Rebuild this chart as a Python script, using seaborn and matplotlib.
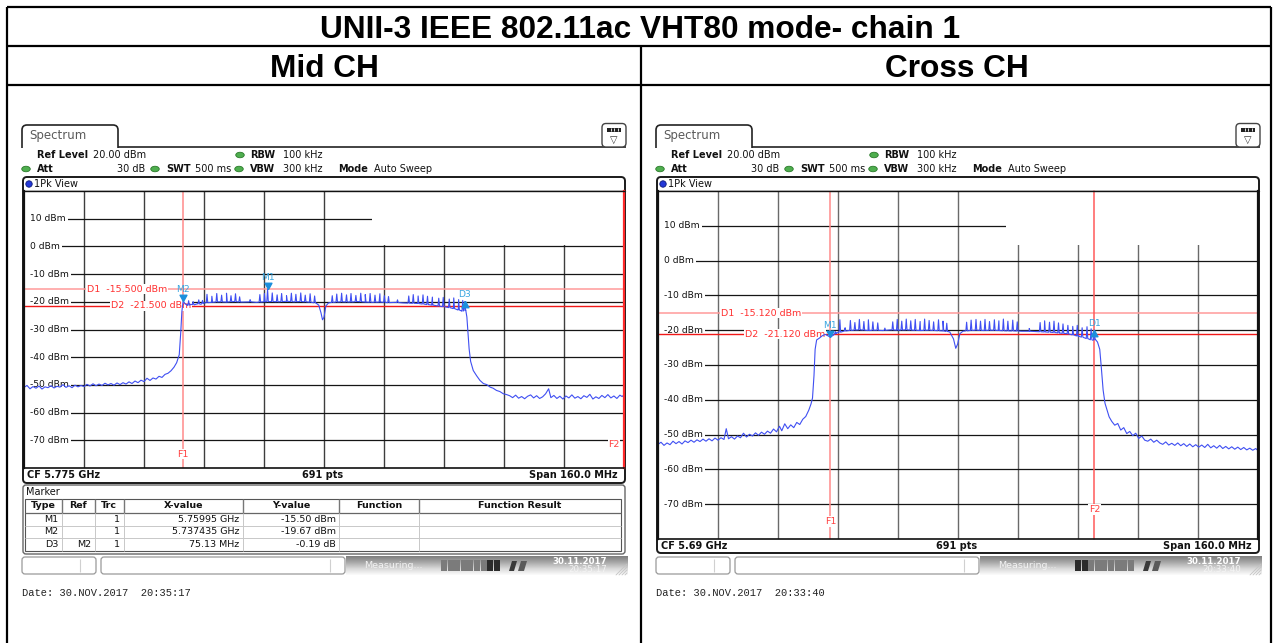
import numpy as np
import matplotlib
matplotlib.use("Agg")
import matplotlib.pyplot as plt
import seaborn as sns
from matplotlib.patches import FancyBboxPatch, Rectangle, Ellipse, Circle, Polygon
from matplotlib.path import Path
from matplotlib.colors import LinearSegmentedColormap

sns.set_style("white")
plt.rcParams["font.family"] = ["DejaVu Sans"]
plt.rcParams["text.color"] = "black"

# ------------------------------------------------------------------ data
TITLE = "UNII-3 IEEE 802.11ac VHT80 mode- chain 1"
COLUMN_TITLES = ["Mid CH", "Cross CH"]

REF_LEVEL_DBM = 20.0
SPAN_MHZ = 160.0
SWEEP_POINTS = "691 pts"
mid_cf_mhz = 5775.0
cross_cf_mhz = 5690.0

# analyzer settings
setting_ref = "20.00 dBm"
setting_att = "30 dB"
setting_swt = "500 ms"
setting_rbw = "100 kHz"
setting_vbw = "300 kHz"
setting_mode = "Auto Sweep"

# Mid CH trace: envelope points and narrow peaks (MHz, dBm)
mid_floor_mhz = [
    5695.0, 5695.8, 5696.6, 5697.4, 5698.2, 5699.0, 5699.8, 5700.6, 5701.4, 5702.2,
    5703.0, 5703.8, 5704.6, 5705.4, 5706.2, 5707.0, 5707.8, 5708.6, 5709.4, 5710.2,
    5711.0, 5711.8, 5712.6, 5713.4, 5714.2, 5715.0, 5715.8, 5716.6, 5717.4, 5718.2,
    5719.0, 5719.8, 5720.6, 5721.4, 5722.2, 5723.0, 5723.8, 5724.6, 5725.4, 5726.2,
    5727.0, 5727.8, 5728.6, 5729.4, 5730.2, 5731.0, 5731.8, 5732.6, 5733.4, 5734.2,
    5735.0, 5735.7, 5736.4, 5736.8, 5737.1, 5737.435, 5738.0, 5738.7, 5739.5, 5740.4,
    5741.3, 5742.2, 5743.0, 5745.0, 5747.0, 5749.0, 5751.0, 5753.0, 5755.0, 5757.0,
    5759.0, 5761.0, 5763.0, 5765.0, 5767.0, 5769.0, 5771.0, 5772.8, 5773.6, 5774.2,
    5774.6, 5775.0, 5775.5, 5776.2, 5778.0, 5780.0, 5782.0, 5784.0, 5786.0, 5788.0,
    5790.0, 5792.0, 5794.0, 5796.0, 5798.0, 5800.0, 5802.0, 5804.0, 5806.0, 5808.0,
    5809.5, 5810.8, 5811.8, 5812.8, 5813.1, 5813.4, 5813.7, 5814.1, 5814.8, 5815.7,
    5816.6, 5817.5, 5818.4, 5819.3, 5820.1, 5821.0, 5821.9, 5822.8, 5823.7, 5824.5,
    5825.3, 5826.1, 5826.9, 5827.7, 5828.5, 5829.3, 5830.1, 5830.9, 5831.7, 5832.5,
    5833.3, 5834.1, 5834.9, 5835.5, 5836.3, 5837.1, 5837.9, 5838.7, 5839.5, 5840.3,
    5841.1, 5841.9, 5842.7, 5843.5, 5844.3, 5845.1, 5845.9, 5846.7, 5847.5, 5848.3,
    5849.1, 5849.9, 5850.7, 5851.5, 5852.3, 5853.1, 5853.9, 5854.5, 5855.0,
]
mid_floor_dbm = [
    -50.9, -50.2, -51.4, -50.6, -51.2, -50.4, -51.5, -50.7, -51.0, -50.3,
    -51.1, -50.5, -50.8, -49.9, -50.9, -50.3, -51.0, -50.1, -50.7, -50.2,
    -50.6, -49.8, -50.4, -49.6, -50.3, -49.7, -50.2, -49.4, -50.0, -49.5,
    -50.1, -49.3, -49.9, -49.2, -49.7, -48.9, -49.5, -48.6, -49.2, -48.3,
    -48.8, -47.6, -48.4, -47.5, -47.9, -46.9, -47.3, -46.2, -45.8, -44.9,
    -43.6, -42.0, -39.1, -31.0, -23.5, -19.67, -20.8, -21.3, -20.9, -21.1,
    -20.7, -20.9, -20.4, -20.2, -20.0, -20.1, -19.9, -20.1, -20.0, -20.2,
    -20.0, -19.9, -20.0, -19.8, -20.0, -19.9, -20.1, -20.4, -21.2, -24.0,
    -26.5, -25.6, -21.5, -20.4, -20.1, -20.0, -20.1, -19.9, -20.1, -20.2,
    -20.1, -20.3, -20.2, -20.4, -20.5, -20.6, -20.9, -21.2, -21.6, -22.0,
    -22.4, -22.9, -23.4, -23.0, -25.5, -31.0, -37.0, -41.5, -44.8, -46.7,
    -48.4, -49.5, -49.9, -50.8, -51.2, -52.0, -52.4, -53.2, -53.5, -53.9,
    -54.6, -53.7, -54.8, -54.2, -55.0, -54.1, -53.6, -54.7, -53.9, -54.9,
    -54.3, -53.2, -51.4, -54.6, -53.8, -54.9, -54.1, -55.1, -54.0, -54.7,
    -53.6, -54.8, -54.2, -55.0, -53.9, -54.5, -53.4, -55.1, -54.3, -54.9,
    -53.8, -54.6, -53.5, -54.7, -54.0, -54.9, -53.7, -54.2, -53.6,
]
mid_spike_mhz = [
    5738.9, 5740.1, 5741.6, 5742.6,
    5743.8, 5745.1, 5746.4, 5747.7, 5749.0, 5750.2, 5751.4, 5752.5,
    5755.3,
    5757.9, 5759.1, 5759.95, 5761.2, 5762.5, 5763.7, 5765.0, 5766.3, 5767.5, 5768.8, 5770.0, 5771.3, 5772.5,
    5777.2, 5778.4, 5779.7, 5781.0, 5782.2, 5783.5, 5784.8, 5786.0, 5787.3, 5788.6, 5789.9, 5791.1, 5792.2,
    5794.6,
    5797.6, 5798.8, 5800.1, 5801.4, 5802.6, 5803.9,
    5805.6, 5806.8, 5808.4, 5809.6, 5810.9, 5812.0, 5812.565,
]
mid_spike_dbm = [
    -19.6, -19.9, -19.3, -19.5,
    -17.3, -18.0, -17.0, -17.6, -16.9, -17.8, -17.1, -18.2,
    -19.2,
    -17.4, -17.0, -15.5, -16.8, -17.5, -17.0, -17.8, -16.9, -17.3, -16.8, -17.6, -17.1, -17.9,
    -17.8, -17.2, -16.9, -17.5, -17.0, -17.7, -16.9, -17.4, -17.0, -17.6, -17.1, -17.8, -18.1,
    -19.3,
    -17.9, -17.4, -17.9, -17.5, -18.0, -18.3,
    -18.7, -18.4, -19.0, -18.6, -19.2, -19.5, -19.86,
]

# Cross CH trace: envelope points and narrow peaks (MHz, dBm)
cross_floor_mhz = [
    5610.0, 5610.8, 5611.6, 5612.4, 5613.2, 5614.0, 5614.8, 5615.6, 5616.4, 5617.2,
    5618.0, 5618.8, 5619.6, 5620.4, 5621.2, 5622.0, 5622.8, 5623.6, 5624.4, 5625.2,
    5626.0, 5626.8, 5627.6, 5628.2, 5628.8, 5629.6, 5630.4, 5631.2, 5632.0, 5632.8,
    5633.6, 5634.4, 5635.2, 5636.0, 5636.8, 5637.6, 5638.4, 5639.2, 5640.0, 5640.8,
    5641.6, 5642.4, 5643.0, 5643.8, 5644.6, 5645.4, 5646.2, 5647.0, 5647.8, 5648.6,
    5649.4, 5650.2, 5650.8, 5651.2, 5651.6, 5651.9, 5652.3, 5653.0, 5653.8, 5654.6,
    5655.3, 5655.96, 5656.8, 5657.6, 5660.0, 5662.0, 5664.0, 5666.0, 5668.0, 5670.0,
    5672.0, 5674.0, 5676.0, 5678.0, 5680.0, 5682.0, 5684.0, 5686.0, 5687.8, 5688.8,
    5689.4, 5689.9, 5690.5, 5691.3, 5693.0, 5695.0, 5697.0, 5699.0, 5701.0, 5703.0,
    5705.0, 5707.0, 5709.0, 5711.0, 5713.0, 5715.0, 5717.0, 5719.0, 5720.5, 5722.0,
    5723.5, 5725.0, 5726.0, 5726.6, 5727.2, 5727.8, 5728.2, 5728.7, 5729.2, 5730.3,
    5731.0, 5731.8, 5732.6, 5733.4, 5734.2, 5735.0, 5735.8, 5736.6, 5737.4, 5738.2,
    5739.0, 5739.8, 5740.6, 5741.4, 5742.2, 5743.0, 5743.8, 5744.6, 5745.4, 5746.2,
    5747.0, 5747.8, 5748.6, 5749.4, 5750.2, 5751.0, 5751.8, 5752.6, 5753.4, 5754.2,
    5755.0, 5755.8, 5756.6, 5757.4, 5758.2, 5759.0, 5759.8, 5760.6, 5761.4, 5762.2,
    5763.0, 5763.8, 5764.6, 5765.4, 5766.2, 5767.0, 5767.8, 5768.6, 5769.4, 5770.0,
]
cross_floor_dbm = [
    -52.8, -52.2, -53.1, -52.4, -52.9, -51.9, -52.6, -52.0, -52.7, -51.8,
    -52.3, -51.6, -52.2, -51.5, -52.0, -51.3, -51.9, -51.2, -51.8, -51.0,
    -51.6, -50.9, -51.4, -48.3, -51.2, -50.6, -51.3, -50.4, -50.9, -49.6,
    -50.7, -49.9, -50.4, -49.5, -50.2, -49.3, -49.9, -49.0, -49.6, -48.4,
    -49.2, -47.6, -48.9, -46.9, -48.3, -47.2, -48.0, -46.5, -47.1, -45.6,
    -44.8, -43.0, -41.2, -39.5, -33.0, -25.5, -22.8, -22.3, -21.6, -21.2,
    -21.6, -21.99, -21.4, -20.8, -20.2, -20.0, -19.9, -20.1, -20.0, -20.1,
    -19.9, -20.0, -19.9, -20.0, -20.1, -20.0, -20.1, -20.2, -20.5, -22.5,
    -25.2, -24.0, -21.0, -20.3, -20.1, -20.0, -20.1, -20.0, -20.1, -20.2,
    -20.2, -20.3, -20.3, -20.4, -20.5, -20.6, -20.8, -21.0, -21.3, -21.7,
    -22.1, -22.6, -22.9, -22.6, -23.4, -25.5, -30.5, -37.2, -41.0, -44.9,
    -46.2, -47.3, -46.8, -48.7, -48.0, -49.7, -49.1, -50.3, -49.6, -51.1,
    -50.4, -51.6, -51.9, -51.3, -52.2, -51.6, -52.4, -52.8, -52.1, -53.0,
    -52.5, -53.1, -52.4, -53.2, -52.6, -53.4, -52.7, -53.5, -52.9, -53.6,
    -53.0, -53.7, -52.8, -53.8, -53.2, -53.9, -53.1, -54.0, -53.4, -54.1,
    -53.5, -54.2, -53.6, -54.3, -53.7, -54.4, -53.9, -54.5, -54.0, -54.6,
]
cross_spike_mhz = [
    5657.3, 5658.5, 5659.9, 5661.3, 5662.5, 5663.7, 5664.9, 5666.1, 5667.3, 5668.6,
    5670.5,
    5672.6, 5673.8, 5675.0, 5676.2, 5677.4, 5678.6, 5679.9, 5681.1, 5682.3, 5683.5, 5684.8, 5686.0, 5687.0,
    5692.3, 5693.5, 5694.8, 5696.0, 5697.2, 5698.4, 5699.7, 5700.9, 5702.1, 5703.3, 5704.6, 5705.8,
    5709.0,
    5711.9, 5713.1, 5714.4, 5715.6, 5716.8, 5718.0, 5719.3,
    5720.6, 5721.8, 5723.1, 5724.4, 5725.5, 5726.35,
]
cross_spike_dbm = [
    -20.4, -17.0, -19.3, -17.2, -17.8, -16.9, -17.5, -17.0, -17.6, -17.9,
    -19.4,
    -17.6, -16.9, -17.4, -16.8, -17.3, -16.9, -17.5, -16.8, -17.2, -17.6, -17.0, -17.4, -18.0,
    -17.7, -17.1, -16.9, -17.4, -16.9, -17.5, -17.0, -17.3, -16.8, -17.4, -17.1, -17.6,
    -19.5,
    -17.8, -17.3, -17.7, -17.4, -17.9, -18.2, -18.6,
    -18.9, -18.6, -19.3, -19.0, -19.6, -19.95,
]

# display lines (D1, D2) and frequency lines (F1, F2)
mid_display_lines_dbm = [-15.5, -21.5]
mid_freq_lines_mhz = [5737.435, 5855.0]
cross_display_lines_dbm = [-15.12, -21.12]
cross_freq_lines_mhz = [5655.96, 5726.35]

# markers (delta markers are given relative to their reference marker)
mid_marker_names = ["M1", "M2", "D3"]
mid_marker_mhz = [5759.95, 5737.435, 5737.435 + 75.13]
mid_marker_dbm = [-15.50, -19.67, -19.67 - 0.19]
cross_marker_names = ["M1", "D1"]
cross_marker_mhz = [5655.96, 5655.96 + 70.39]
cross_marker_dbm = [-21.99, -21.99 + 2.04]

mid_readout = [["M1[1]", "-15.50 dBm", "5.759950 GHz"],
               ["M2[1]", "-19.67 dBm", "5.737435 GHz"]]
cross_readout = [["D1[1]", "2.04 dB", "70.390 MHz"],
                 ["M1[1]", "-21.99 dBm", "5.655960 GHz"]]

# marker table (Mid CH)
table_columns = ["Type", "Ref", "Trc", "X-value", "Y-value", "Function", "Function Result"]
table_type = ["M1", "M2", "D3"]
table_ref = ["", "", "M2"]
table_trc = ["1", "1", "1"]
table_xval = ["5.75995 GHz", "5.737435 GHz", "75.13 MHz"]
table_yval = ["-15.50 dBm", "-19.67 dBm", "-0.19 dB"]

mid_cf_text = "CF 5.775 GHz"
cross_cf_text = "CF 5.69 GHz"
span_text = "Span 160.0 MHz"
status_date = "30.11.2017"
mid_time = "20:35:17"
cross_time = "20:33:40"
mid_date_line = "Date: 30.NOV.2017  20:35:17"
cross_date_line = "Date: 30.NOV.2017  20:33:40"

# ------------------------------------------------------------------ styling
TRACE_BLUE = "#3f4ff2"
MARK_BLUE = "#1c8fdc"
READ_BLUE = "#2d9ddc"
RED_TEXT = "#ff3030"
UI = 7.0

W, H = 1277, 643
fig = plt.figure(figsize=(W / 100, H / 100), dpi=100)
bg = fig.add_axes([0, 0, 1, 1])
bg.set_xlim(0, W)
bg.set_ylim(H, 0)
bg.axis("off")


def px_axes(x0, y0, x1, y1):
    return fig.add_axes([x0 / W, 1 - y1 / H, (x1 - x0) / W, (y1 - y0) / H])


def t(x, y, s, size=UI, bold=False, ha="left", color="#111111", **kw):
    bg.text(x, y, s, fontsize=size, fontweight="bold" if bold else "normal",
            ha=ha, va="center", color=color, **kw)


# ---------------------------------------------------------------- outer table
bg.hlines([7, 46, 85], 7, 1271, colors="black", lw=1.6)
bg.vlines([7, 1271], 7, H, colors="black", lw=1.6)
bg.vlines(641, 46, H, colors="black", lw=1.6)
title_font = ["Liberation Sans", "DejaVu Sans"]
bg.text(640, 38, TITLE, ha="center", va="baseline", fontsize=22.8,
        fontweight="bold", family=title_font, color="black")
bg.text(324, 77, COLUMN_TITLES[0], ha="center", va="baseline", fontsize=22.8,
        fontweight="bold", family=title_font, color="black")
bg.text(957, 77, COLUMN_TITLES[1], ha="center", va="baseline", fontsize=22.8,
        fontweight="bold", family=title_font, color="black")


def led(x, y):
    bg.add_patch(Ellipse((x, y), 8.5, 5.5, fc="#4fae4f", ec="#2a7a2a", lw=0.6, zorder=3))


def header(dx, frame_bottom):
    # tab
    bg.add_patch(FancyBboxPatch((22 + dx, 125), 96, 32,
                                boxstyle="round,pad=0,rounding_size=5",
                                fc="white", ec="#222222", lw=1.2, zorder=2))
    bg.add_patch(Rectangle((20 + dx, 148), 100, 12, fc="white", ec="none", zorder=3))
    bg.plot([117.5 + dx, 626 + dx], [147, 147], color="#222222", lw=1.2, zorder=4,
            solid_capstyle="butt")
    t(29 + dx, 136, "Spectrum", size=8.5, color="#5a5a5a", zorder=5)
    # menu icon
    bg.add_patch(FancyBboxPatch((602 + dx, 123.5), 24, 23.5,
                                boxstyle="round,pad=0,rounding_size=4",
                                fc="white", ec="#444444", lw=1.0, zorder=5))
    bg.add_patch(Rectangle((607 + dx, 127.5), 14, 4.5, fc="#222222", ec="none", zorder=6))
    bg.vlines([610.5 + dx, 614 + dx, 617.5 + dx], 128.2, 131.3, colors="white", lw=0.6, zorder=7)
    t(614 + dx, 139.5, "\u25bd", size=7, ha="center", color="#333333", zorder=6)
    # settings rows
    t(37 + dx, 155, "Ref Level", bold=True)
    t(93 + dx, 155, setting_ref)
    led(240 + dx, 155)
    t(250 + dx, 155, "RBW", bold=True)
    t(283 + dx, 155, setting_rbw)
    led(26 + dx, 169)
    t(37 + dx, 169, "Att", bold=True)
    t(145 + dx, 169, setting_att, ha="right")
    led(155 + dx, 169)
    t(166 + dx, 169, "SWT", bold=True)
    t(195 + dx, 169, setting_swt)
    led(239 + dx, 169)
    t(250 + dx, 169, "VBW", bold=True)
    t(283 + dx, 169, setting_vbw)
    t(338 + dx, 169, "Mode", bold=True)
    t(374 + dx, 169, setting_mode)
    # window frame
    bg.add_patch(FancyBboxPatch((23 + dx, 177), 602, frame_bottom - 177,
                                boxstyle="round,pad=0,rounding_size=4",
                                fc="none", ec="#1a1a1a", lw=1.4, zorder=6))
    bg.add_patch(Circle((29 + dx, 184), 3.2, fc="#2438d8", ec="#0b1a7a", lw=0.6, zorder=3))
    t(33.5 + dx, 184, "1Pk View")
    bg.plot([23 + dx, 625 + dx], [191, 191], color="#1a1a1a", lw=1.0, zorder=6)


def build_trace(floor_mhz, floor_dbm, spike_mhz, spike_dbm, half=0.2):
    fm = np.asarray(floor_mhz, float)
    fd = np.asarray(floor_dbm, float)
    sm = np.asarray(spike_mhz, float)
    sd = np.asarray(spike_dbm, float)
    base = np.interp(sm, fm, fd)
    xs = np.concatenate([fm, sm - half, sm, sm + half])
    ys = np.concatenate([fd, base, sd, base])
    order = np.argsort(xs, kind="stable")
    return xs[order], ys[order]


TRI_DOWN = Path([(0, 0), (-0.55, 1.0), (0.55, 1.0), (0, 0)])
TRI_UP = Path([(0, 0), (-0.55, -1.0), (0.55, -1.0), (0, 0)])


def graticule(rect, cf, floor_mhz, floor_dbm, spike_mhz, spike_dbm, dlines, flines,
              mk_names, mk_mhz, mk_dbm, info_bottom, right_color, vgrid_color):
    ax = px_axes(*rect)
    lo, hi = cf - SPAN_MHZ / 2, cf + SPAN_MHZ / 2
    ax.set_xlim(lo, hi)
    ax.set_ylim(REF_LEVEL_DBM - 100, REF_LEVEL_DBM)
    ax.set_xticks([])
    ax.set_yticks([])
    ax.set_facecolor("white")
    for side, (c, lw) in {"left": ("#111111", 1.6), "bottom": ("#111111", 1.2),
                          "top": ("#111111", 1.0), "right": (right_color, 1.6)}.items():
        ax.spines[side].set_visible(True)
        ax.spines[side].set_color(c)
        ax.spines[side].set_linewidth(lw)
        ax.spines[side].set_zorder(6)
    div_x = np.linspace(lo, hi, 11)[1:-1]
    div_y = np.arange(REF_LEVEL_DBM - 90, REF_LEVEL_DBM, 10)
    ax.vlines(div_x, REF_LEVEL_DBM - 100, REF_LEVEL_DBM, colors=vgrid_color, lw=1.0, zorder=1)
    # level lines run out from behind their labels
    ax.hlines(div_y, lo + 2.0, hi, colors="#151515", lw=0.9, zorder=1)
    ytr = ax.get_yaxis_transform()
    for v in div_y:
        ax.text(0.0095, v, f"{int(v)} dBm", transform=ytr, fontsize=6.6, va="center",
                ha="left", color="#111111", zorder=2,
                bbox=dict(fc="white", ec="none", pad=2.0))
    # readout area
    ax.add_patch(Rectangle((0.58, info_bottom), 0.42, 1 - info_bottom,
                           transform=ax.transAxes, fc="white", ec="none", zorder=1.5))
    # display lines
    d1, d2 = dlines
    ax.axhline(d1, color="#ff9a9a", lw=1.1, zorder=2.5)
    ax.axhline(d2, color="#f01818", lw=1.0, zorder=2.5)
    ax.text(0.105, d1, f"D1  {d1:.3f} dBm", transform=ytr, color=RED_TEXT, fontsize=6.8,
            va="center", ha="left", zorder=2.6, bbox=dict(fc="white", ec="none", pad=0.5))
    ax.text(0.145, d2, f"D2  {d2:.3f} dBm", transform=ytr, color=RED_TEXT, fontsize=6.8,
            va="center", ha="left", zorder=2.6, bbox=dict(fc="white", ec="none", pad=0.5))
    # frequency lines
    f1, f2 = flines
    ax.axvline(f1, color="#ff8a8a", lw=1.1, zorder=2.5)
    ax.axvline(f2, color="#ff5a5a", lw=1.1, zorder=2.5, clip_on=False)
    ax.text(f1, -75.0, "F1", color="#ff4040", fontsize=6.8, ha="center", va="center",
            zorder=2.6, bbox=dict(fc="white", ec="none", pad=0.5))
    f2x = min(f2, hi - 2.7)
    ax.text(f2x, -71.5, "F2", color="#ff4040", fontsize=6.8, ha="center", va="center",
            zorder=2.6, bbox=dict(fc="white", ec="none", pad=0.5))
    # trace
    xs, ys = build_trace(floor_mhz, floor_dbm, spike_mhz, spike_dbm)
    sns.lineplot(x=xs, y=ys, ax=ax, color=TRACE_BLUE, lw=0.8, estimator=None,
                 sort=False, zorder=3, legend=False)
    # markers
    for name, fm, lv in zip(mk_names, mk_mhz, mk_dbm):
        delta = name.startswith("D")
        ax.plot([fm], [lv], marker=TRI_UP if delta else TRI_DOWN, ms=9, color=MARK_BLUE,
                mec=MARK_BLUE, lw=0, zorder=4)
        ax.annotate(name, (fm, lv), xytext=(0, 5.0 if delta else 8.2),
                    textcoords="offset points", ha="center", va="center",
                    fontsize=6.6, color="#3aa6e0", zorder=4)
    return ax


def readout(dx, rows):
    ys = [(199, 212), (225, 238)]
    for (lab, v1, v2), (ya, yb) in zip(rows, ys):
        t(373 + dx, ya, lab, bold=True, color=READ_BLUE, size=6.8)
        t(622 + dx, ya, v1, bold=True, color=READ_BLUE, size=6.8, ha="right")
        t(622 + dx, yb, v2, bold=True, color=READ_BLUE, size=6.8, ha="right")


def footer_row(dx, y, cf_text):
    t(27 + dx, y, cf_text, bold=True)
    t(323 + dx, y, SWEEP_POINTS, bold=True, ha="center")
    t(618 + dx, y, span_text, bold=True, ha="right")


BAR_CMAP = LinearSegmentedColormap.from_list("bar", ["#7e7e7e", "#a9a9a9", "#d9d9d9", "#fbfbfb"])


def status_bar(dx, dark_blocks, time_txt, date_line):
    for x0, x1, sep in [(22, 96, 80), (101, 345, 330)]:
        bg.add_patch(FancyBboxPatch((x0 + dx, 557), x1 - x0, 17,
                                    boxstyle="round,pad=0,rounding_size=3",
                                    fc="white", ec="#9a9a9a", lw=0.9, zorder=3))
        bg.vlines(sep + dx, 559, 572, colors="#d0d0d0", lw=0.8, zorder=4)
    grad = np.linspace(0, 1, 40)[:, None]
    bg.imshow(grad, extent=(346 + dx, 628 + dx, 575, 556), cmap=BAR_CMAP, aspect="auto",
              interpolation="bilinear", zorder=2)
    t(364 + dx, 565, "Measuring...", color="#f2f2f2", size=6.8, zorder=4)
    bw = 6.6
    for k in range(9):
        c = "#2b2b2b" if k in dark_blocks else "#7b7b7b"
        bg.add_patch(Rectangle((441 + dx + k * bw, 560), bw - 0.7, 11, fc=c, ec="none", zorder=4))
    bg.add_patch(Polygon([(509 + dx, 571), (512 + dx, 561), (517 + dx, 561), (514 + dx, 571)],
                         fc="#3a3a3a", ec="none", zorder=4))
    bg.add_patch(Polygon([(518 + dx, 571), (521 + dx, 561), (527 + dx, 561), (524 + dx, 571)],
                         fc="#5a5a5a", ec="none", zorder=4))
    t(580 + dx, 561, status_date, color="white", size=6.2, bold=True, ha="center", zorder=4)
    t(588 + dx, 569.5, time_txt, color="#f4f4f4", size=6.2, ha="center", zorder=4)
    for k in range(4):
        bg.plot([616 + dx + 3 * k, 627 + dx], [575, 564 + 3 * k], color="#c4c4c4", lw=0.6, zorder=4)
    bg.text(22 + dx, 593, date_line, fontsize=7.5, family=["Liberation Mono", "DejaVu Sans Mono"],
            ha="left", va="center", color="#222222")


# ------------------------------------------------------------------ Mid CH panel
header(0, 483)
graticule((24, 191, 624, 468), mid_cf_mhz, mid_floor_mhz, mid_floor_dbm,
          mid_spike_mhz, mid_spike_dbm, mid_display_lines_dbm, mid_freq_lines_mhz,
          mid_marker_names, mid_marker_mhz, mid_marker_dbm, 0.805, "#ff2a2a", "#3e3e3e")
readout(0, mid_readout)
footer_row(0, 475.5, mid_cf_text)

# marker table
bg.add_patch(FancyBboxPatch((23, 485), 602, 69, boxstyle="round,pad=0,rounding_size=3",
                            fc="none", ec="#666666", lw=1.0, zorder=3))
t(26, 492, "Marker")
col_edges = [24.5, 61.5, 95, 123.6, 243, 339.4, 419, 621]
bg.add_patch(Rectangle((col_edges[0], 499), col_edges[-1] - col_edges[0], 52,
                       fc="none", ec="#555555", lw=0.8, zorder=3))
bg.hlines(512.5, col_edges[0], col_edges[-1], colors="#666666", lw=0.9, zorder=3)
bg.hlines([525.5, 538.3], col_edges[0], col_edges[-1], colors="#c8c8c8", lw=0.7, zorder=3)
bg.vlines(col_edges[1:-1], 499, 512.5, colors="#777777", lw=1.0, zorder=3)
bg.vlines(col_edges[1:-1], 512.5, 551, colors="#c8c8c8", lw=0.7, zorder=3)
for k, name in enumerate(table_columns):
    t((col_edges[k] + col_edges[k + 1]) / 2, 506, name, bold=True, ha="center", size=6.8)
for r, row in enumerate(zip(table_type, table_ref, table_trc, table_xval, table_yval)):
    y = 519 + r * 12.8
    for k, val in enumerate(row):
        t(col_edges[k + 1] - 3.5, y, val, ha="right", size=6.8)

status_bar(0, [7, 8], mid_time, mid_date_line)

# ------------------------------------------------------------------ Cross CH panel
DX = 634
header(DX, 553)
graticule((658, 191, 1258, 539), cross_cf_mhz, cross_floor_mhz, cross_floor_dbm,
          cross_spike_mhz, cross_spike_dbm, cross_display_lines_dbm, cross_freq_lines_mhz,
          cross_marker_names, cross_marker_mhz, cross_marker_dbm, 0.845, "#111111", "#6a6a6a")
readout(DX, cross_readout)
footer_row(DX, 546, cross_cf_text)
status_bar(DX, [0, 1], cross_time, cross_date_line)

bg.set_xlim(0, W)
bg.set_ylim(H, 0)
fig.savefig("out.png", dpi=100, facecolor="white")
